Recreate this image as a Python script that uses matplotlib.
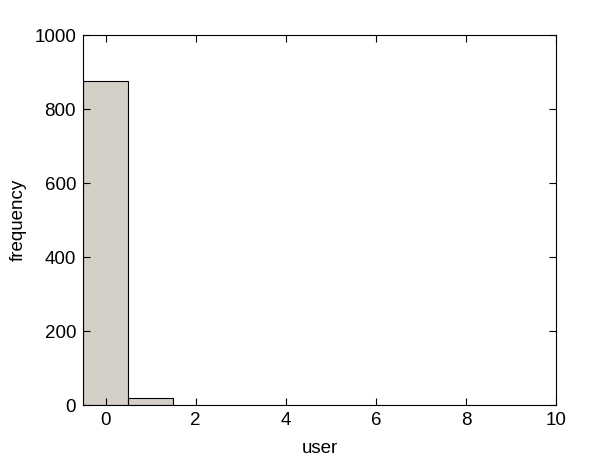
import matplotlib
matplotlib.use("Agg")
import matplotlib.pyplot as plt

# histogram counts per user value
bins = [0, 1]
counts = [876, 18]

plt.rcParams['font.family'] = ['Liberation Sans', 'DejaVu Sans']

fig = plt.figure(figsize=(6.16, 4.61), dpi=100)
ax = fig.add_axes([83 / 616, 1 - 405 / 461, 473 / 616, 370 / 461])

ax.bar(bins, counts, width=1.0, color='#d4d0c8', edgecolor='black', linewidth=0.8)

ax.set_xlim(-0.5, 10)
ax.set_ylim(0, 1000)
ax.set_xticks([0, 2, 4, 6, 8, 10])
ax.set_yticks([0, 200, 400, 600, 800, 1000])
ax.tick_params(direction='in', top=True, right=True, labelsize=13.5, length=5, width=0.8)
ax.tick_params(axis='x', pad=5)
ax.tick_params(axis='y', pad=5)
for s in ax.spines.values():
    s.set_linewidth(0.8)

ax.set_xlabel('user', fontsize=13.5, labelpad=8)
ax.set_ylabel('frequency', fontsize=13.5, labelpad=5)

fig.savefig('out.png', dpi=100)
